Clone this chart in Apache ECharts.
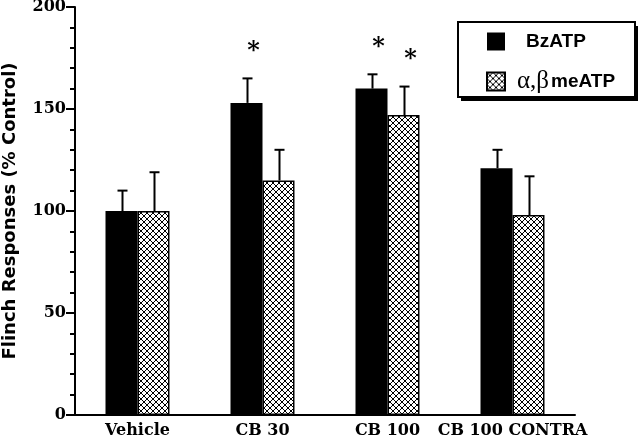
<!DOCTYPE html>
<html>
<head>
<meta charset="utf-8">
<script src="https://cdn.jsdelivr.net/npm/echarts@6/dist/echarts.min.js"></script>
<style>
  html, body { margin: 0; padding: 0; background: #fff; }
  #chart { width: 640px; height: 441px; }
</style>
</head>
<body>
<div id="chart"></div>
<script>
const categories = ["Vehicle", "CB 30", "CB 100", "CB 100 CONTRA"];
const bzatp = [100, 153, 160, 121];
const bzatpErr = [110, 165, 167, 130];
const meatp = [100, 115, 147, 98];
const meatpErr = [119, 130, 161, 117];
const bzatpStar = [false, true, true, false];
const meatpStar = [false, false, true, false];
const yTicks = [0, 50, 100, 150, 200];

const BAR_W = 32;

// crosshatch fill
function hatch() {
  const c = document.createElement("canvas");
  c.width = 12;
  c.height = 12;
  const ctx = c.getContext("2d");
  ctx.fillStyle = "#fff";
  ctx.fillRect(0, 0, 12, 12);
  ctx.strokeStyle = "#000";
  ctx.lineWidth = 1;
  for (let k = -12; k <= 12; k += 6) {
    ctx.beginPath();
    ctx.moveTo(k, 0);
    ctx.lineTo(k + 12, 12);
    ctx.moveTo(k, 12);
    ctx.lineTo(k + 12, 0);
    ctx.stroke();
  }
  return { image: c, repeat: "repeat" };
}

function errorSeries(name, vals, errs, stars, side) {
  return {
    name: name + " err",
    type: "custom",
    z: 5,
    data: vals.map((v, i) => [i, v, errs[i], stars[i] ? 1 : 0]),
    renderItem: (params, api) => {
      const base = api.coord([api.value(0), api.value(1)]);
      const top = api.coord([api.value(0), api.value(2)]);
      const x = base[0] + side * BAR_W / 2 + 1;
      const children = [
        { type: "line", shape: { x1: x, y1: base[1], x2: x, y2: top[1] }, style: { stroke: "#000", lineWidth: 2 } },
        { type: "line", shape: { x1: x - 5, y1: top[1], x2: x + 5, y2: top[1] }, style: { stroke: "#000", lineWidth: 2 } }
      ];
      if (api.value(3)) {
        children.push({
          type: "text",
          style: {
            text: "*", x: x + 6, y: top[1] - 27,
            font: "bold 24px 'DejaVu Serif'", fill: "#000",
            align: "center", verticalAlign: "middle"
          }
        });
      }
      return { type: "group", children };
    }
  };
}

const chart = echarts.init(document.getElementById("chart"));

chart.setOption({
  animation: false,
  backgroundColor: "#fff",
  grid: { left: 75, top: 7, width: 500, height: 408, outerBoundsMode: "none", containLabel: false },
  graphic: [
    { type: "rect", z: 1, shape: { x: 461, y: 26, width: 177, height: 75 }, style: { fill: "#000" } },
    { type: "rect", z: 2, shape: { x: 458, y: 22, width: 177, height: 75 }, style: { fill: "#fff", stroke: "#000", lineWidth: 2 } }
  ],
  legend: {
    z: 10,
    orient: "vertical",
    left: 486,
    top: 32,
    padding: 0,
    itemWidth: 18,
    itemHeight: 18,
    itemGap: 18,
    icon: "rect",
    data: ["BzATP", "meATP"],
    formatter: n => n === "BzATP" ? "{pad| }{n|BzATP}" : "{pad2| }{g|α,β}{n|meATP}",
    textStyle: {
      rich: {
        pad: { width: 16 },
        pad2: { width: 7 },
        n: { fontFamily: "Liberation Sans", fontWeight: "bold", fontSize: 19, color: "#000" },
        g: { fontFamily: "Liberation Serif", fontSize: 25, color: "#000", padding: [0, 2, 0, 0] }
      }
    }
  },
  xAxis: {
    type: "category",
    data: categories,
    axisLine: { lineStyle: { color: "#000", width: 2 } },
    axisTick: { show: false },
    axisLabel: {
      color: "#000", fontFamily: "DejaVu Serif", fontWeight: "bold", fontSize: 16,
      margin: 8, interval: 0
    }
  },
  yAxis: {
    type: "value",
    min: yTicks[0],
    max: yTicks[yTicks.length - 1],
    interval: 50,
    name: "Flinch Responses (% Control)",
    nameLocation: "middle",
    nameGap: 56,
    nameTextStyle: { fontFamily: "DejaVu Sans", fontWeight: "bold", fontSize: 18, color: "#000" },
    axisLine: { show: true, lineStyle: { color: "#000", width: 2 } },
    axisTick: { show: true, length: 9, lineStyle: { color: "#000", width: 2 } },
    minorTick: { show: true, splitNumber: 5, length: 5, lineStyle: { color: "#000", width: 2 } },
    splitLine: { show: false },
    axisLabel: {
      color: "#000", fontFamily: "DejaVu Serif", fontWeight: "bold", fontSize: 16, margin: 9
    }
  },
  series: [
    {
      name: "BzATP",
      type: "bar",
      barWidth: BAR_W,
      barGap: "0%",
      data: bzatp,
      itemStyle: { color: "#000" }
    },
    {
      name: "meATP",
      type: "bar",
      barWidth: BAR_W,
      barGap: "0%",
      data: meatp,
      itemStyle: { color: hatch(), borderColor: "#000", borderWidth: 1.5 }
    },
    errorSeries("BzATP", bzatp, bzatpErr, bzatpStar, -1),
    errorSeries("meATP", meatp, meatpErr, meatpStar, 1)
  ]
});
</script>
</body>
</html>
